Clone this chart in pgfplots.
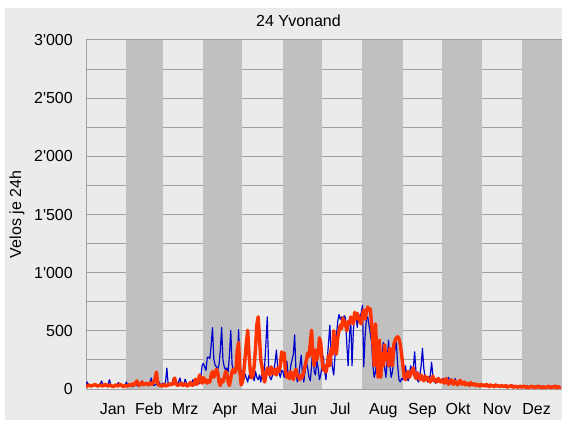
\documentclass[border=0pt]{standalone}
\usepackage{fontspec}
\setmainfont{Liberation Sans}
\usepackage{pgfplots}
\pgfplotsset{compat=1.18}
\usepackage{pgfplotstable}
\definecolor{bgl}{RGB}{235,235,235}
\definecolor{band}{RGB}{192,192,192}
\definecolor{grd}{RGB}{160,160,160}
\definecolor{bl}{RGB}{0,0,204}
\definecolor{org}{RGB}{255,51,0}

% Blue series, one value per day (Jan ... Dec)
\pgfplotstableread[row sep=\\]{v\\
30\\60\\25\\30\\20\\35\\40\\25\\30\\20\\35\\45\\70\\30\\25\\30\\20\\40\\80\\35\\25\\30\\20\\30\\40\\55\\35\\25\\30\\20\\35\\
60\\30\\25\\35\\30\\20\\40\\55\\30\\25\\35\\45\\70\\30\\40\\35\\50\\30\\45\\95\\40\\30\\35\\45\\30\\60\\35\\40\\
50\\40\\60\\180\\40\\35\\50\\45\\95\\40\\55\\45\\60\\95\\45\\50\\40\\85\\50\\35\\45\\40\\55\\80\\40\\35\\50\\60\\45\\90\\200\\
220\\190\\160\\270\\275\\260\\380\\527\\260\\205\\190\\170\\210\\330\\530\\250\\190\\165\\180\\150\\290\\505\\210\\170\\150\\200\\170\\510\\200\\150\\
100\\80\\130\\95\\60\\120\\90\\140\\110\\70\\150\\100\\80\\120\\60\\140\\110\\200\\400\\620\\200\\100\\80\\120\\150\\230\\335\\180\\140\\100\\160\\
150\\100\\180\\240\\120\\80\\200\\250\\300\\465\\150\\60\\100\\200\\290\\120\\60\\150\\230\\180\\100\\70\\200\\380\\150\\120\\250\\180\\80\\120\\
200\\280\\150\\80\\250\\400\\550\\300\\180\\120\\300\\450\\580\\640\\600\\620\\590\\630\\610\\380\\200\\450\\590\\200\\500\\660\\640\\530\\640\\620\\650\\
720\\190\\450\\600\\620\\550\\480\\400\\200\\100\\150\\250\\120\\100\\200\\300\\400\\180\\100\\250\\420\\200\\100\\150\\250\\350\\400\\200\\80\\60\\90\\
80\\120\\200\\100\\70\\130\\200\\150\\180\\320\\150\\80\\60\\120\\200\\350\\180\\100\\80\\60\\90\\120\\230\\110\\70\\50\\80\\100\\90\\60\\
70\\90\\60\\50\\80\\100\\60\\45\\70\\55\\90\\60\\40\\50\\70\\45\\55\\40\\60\\50\\35\\45\\40\\55\\35\\30\\45\\40\\30\\35\\40\\
30\\25\\35\\40\\25\\30\\20\\35\\30\\25\\40\\30\\20\\25\\30\\35\\25\\20\\30\\25\\20\\30\\25\\35\\20\\25\\30\\20\\25\\30\\
20\\25\\15\\20\\30\\20\\15\\25\\20\\15\\20\\25\\15\\20\\10\\15\\20\\25\\15\\10\\20\\15\\10\\20\\25\\15\\20\\10\\15\\20\\15\\
}\tblue

% Orange series, one value per day (Jan ... Dec)
\pgfplotstableread[row sep=\\]{v\\
20\\25\\35\\30\\25\\30\\35\\40\\30\\25\\30\\35\\30\\25\\35\\40\\30\\25\\35\\30\\25\\20\\30\\35\\25\\30\\40\\35\\25\\20\\30\\
30\\25\\35\\40\\30\\45\\35\\50\\70\\40\\30\\45\\60\\35\\40\\50\\45\\35\\55\\40\\45\\60\\90\\145\\50\\30\\35\\25\\
30\\40\\25\\35\\30\\45\\40\\35\\60\\95\\45\\30\\35\\40\\50\\30\\35\\45\\30\\25\\40\\55\\35\\30\\50\\85\\40\\60\\120\\70\\50\\
100\\60\\80\\50\\70\\60\\120\\150\\100\\130\\170\\145\\60\\30\\80\\60\\100\\150\\140\\60\\30\\90\\150\\170\\140\\160\\335\\400\\150\\35\\
60\\150\\270\\400\\505\\300\\150\\95\\120\\200\\350\\550\\620\\450\\250\\190\\100\\60\\120\\180\\150\\120\\190\\160\\130\\170\\120\\180\\150\\200\\320\\
250\\310\\150\\100\\130\\90\\150\\120\\80\\140\\170\\120\\100\\80\\120\\100\\150\\200\\250\\310\\280\\400\\505\\300\\200\\335\\250\\300\\440\\395\\
250\\160\\200\\145\\200\\290\\200\\350\\300\\500\\350\\300\\440\\500\\550\\520\\610\\580\\550\\500\\580\\560\\620\\590\\560\\660\\600\\650\\610\\580\\560\\
640\\680\\600\\660\\705\\680\\690\\560\\400\\200\\560\\300\\100\\420\\100\\300\\200\\380\\250\\300\\200\\350\\250\\200\\380\\420\\440\\450\\430\\380\\300\\
200\\100\\80\\120\\150\\100\\130\\160\\180\\120\\90\\140\\100\\80\\120\\90\\70\\110\\80\\100\\70\\60\\90\\110\\70\\80\\60\\90\\70\\60\\
80\\60\\50\\90\\70\\40\\60\\80\\50\\40\\70\\55\\35\\60\\75\\45\\40\\60\\35\\50\\45\\30\\55\\40\\35\\45\\30\\40\\35\\25\\40\\
30\\35\\25\\40\\30\\20\\35\\25\\30\\20\\35\\25\\30\\20\\25\\30\\20\\25\\30\\15\\25\\20\\30\\20\\15\\25\\20\\15\\20\\25\\
15\\20\\25\\15\\20\\10\\15\\20\\25\\15\\10\\20\\15\\25\\20\\10\\15\\20\\10\\15\\20\\25\\10\\15\\20\\15\\25\\10\\20\\15\\20\\
}\torange

\begin{document}
\begin{tikzpicture}[x=1pt,y=1pt]
\useasboundingbox (0,0) rectangle (562,424);
\fill[white] (0,0) rectangle (562,424);
\fill[bgl] (5,4) rectangle (562,416);
\begin{axis}[
  at={(86pt,35pt)}, anchor=south west,
  scale only axis, width=476pt, height=349pt,
  xmin=0, xmax=365, ymin=0, ymax=3000,
  axis line style={draw=none},
  major tick length=0pt, minor tick length=0pt,
  tick style={draw=none},
  ytick={0,500,1000,1500,2000,2500,3000},
  minor ytick={250,750,1250,1750,2250,2750},
  yticklabels={0,500,1\textquotesingle 000,1\textquotesingle 500,2\textquotesingle 000,2\textquotesingle 500,3\textquotesingle 000},
  ymajorgrids, yminorgrids,
  major grid style={grd, line width=1pt},
  minor grid style={grd, line width=1pt},
  xtick={20.5,48.3,76,106.6,136.5,167.2,195,228,258,285.3,315.2,345.5},
  xticklabels={Jan,Feb,Mrz,Apr,Mai,Jun,Jul,Aug,Sep,Okt,Nov,Dez},
  ticklabel style={font=\fontsize{16}{19}\selectfont, inner sep=0pt},
  yticklabel style={anchor=east, xshift=-13pt},
  xticklabel style={anchor=base, yshift=-25pt},
]
\fill[band] (31,0) rectangle (59,3000);
\fill[band] (90,0) rectangle (120,3000);
\fill[band] (151,0) rectangle (181,3000);
\fill[band] (212,0) rectangle (243,3000);
\fill[band] (273,0) rectangle (304,3000);
\fill[band] (334,0) rectangle (365,3000);
\draw[grd, line width=1pt] (0,3000) -- (365,3000);
\draw[grd, line width=1pt] (0,0) -- (0,3000);
\addplot[bl, line width=1.2pt, line join=round, no markers] table[x expr=\coordindex, y=v]{\tblue};
\addplot[org, line width=3.4pt, line join=round, no markers] table[x expr=\coordindex, y=v]{\torange};
\end{axis}
\node[anchor=base, font=\fontsize{16}{19}\selectfont] at (298.5,397) {24 Yvonand};
\node[rotate=90, font=\fontsize{16}{19}\selectfont] at (17,209.5) {Velos je 24h};
\end{tikzpicture}
\end{document}
